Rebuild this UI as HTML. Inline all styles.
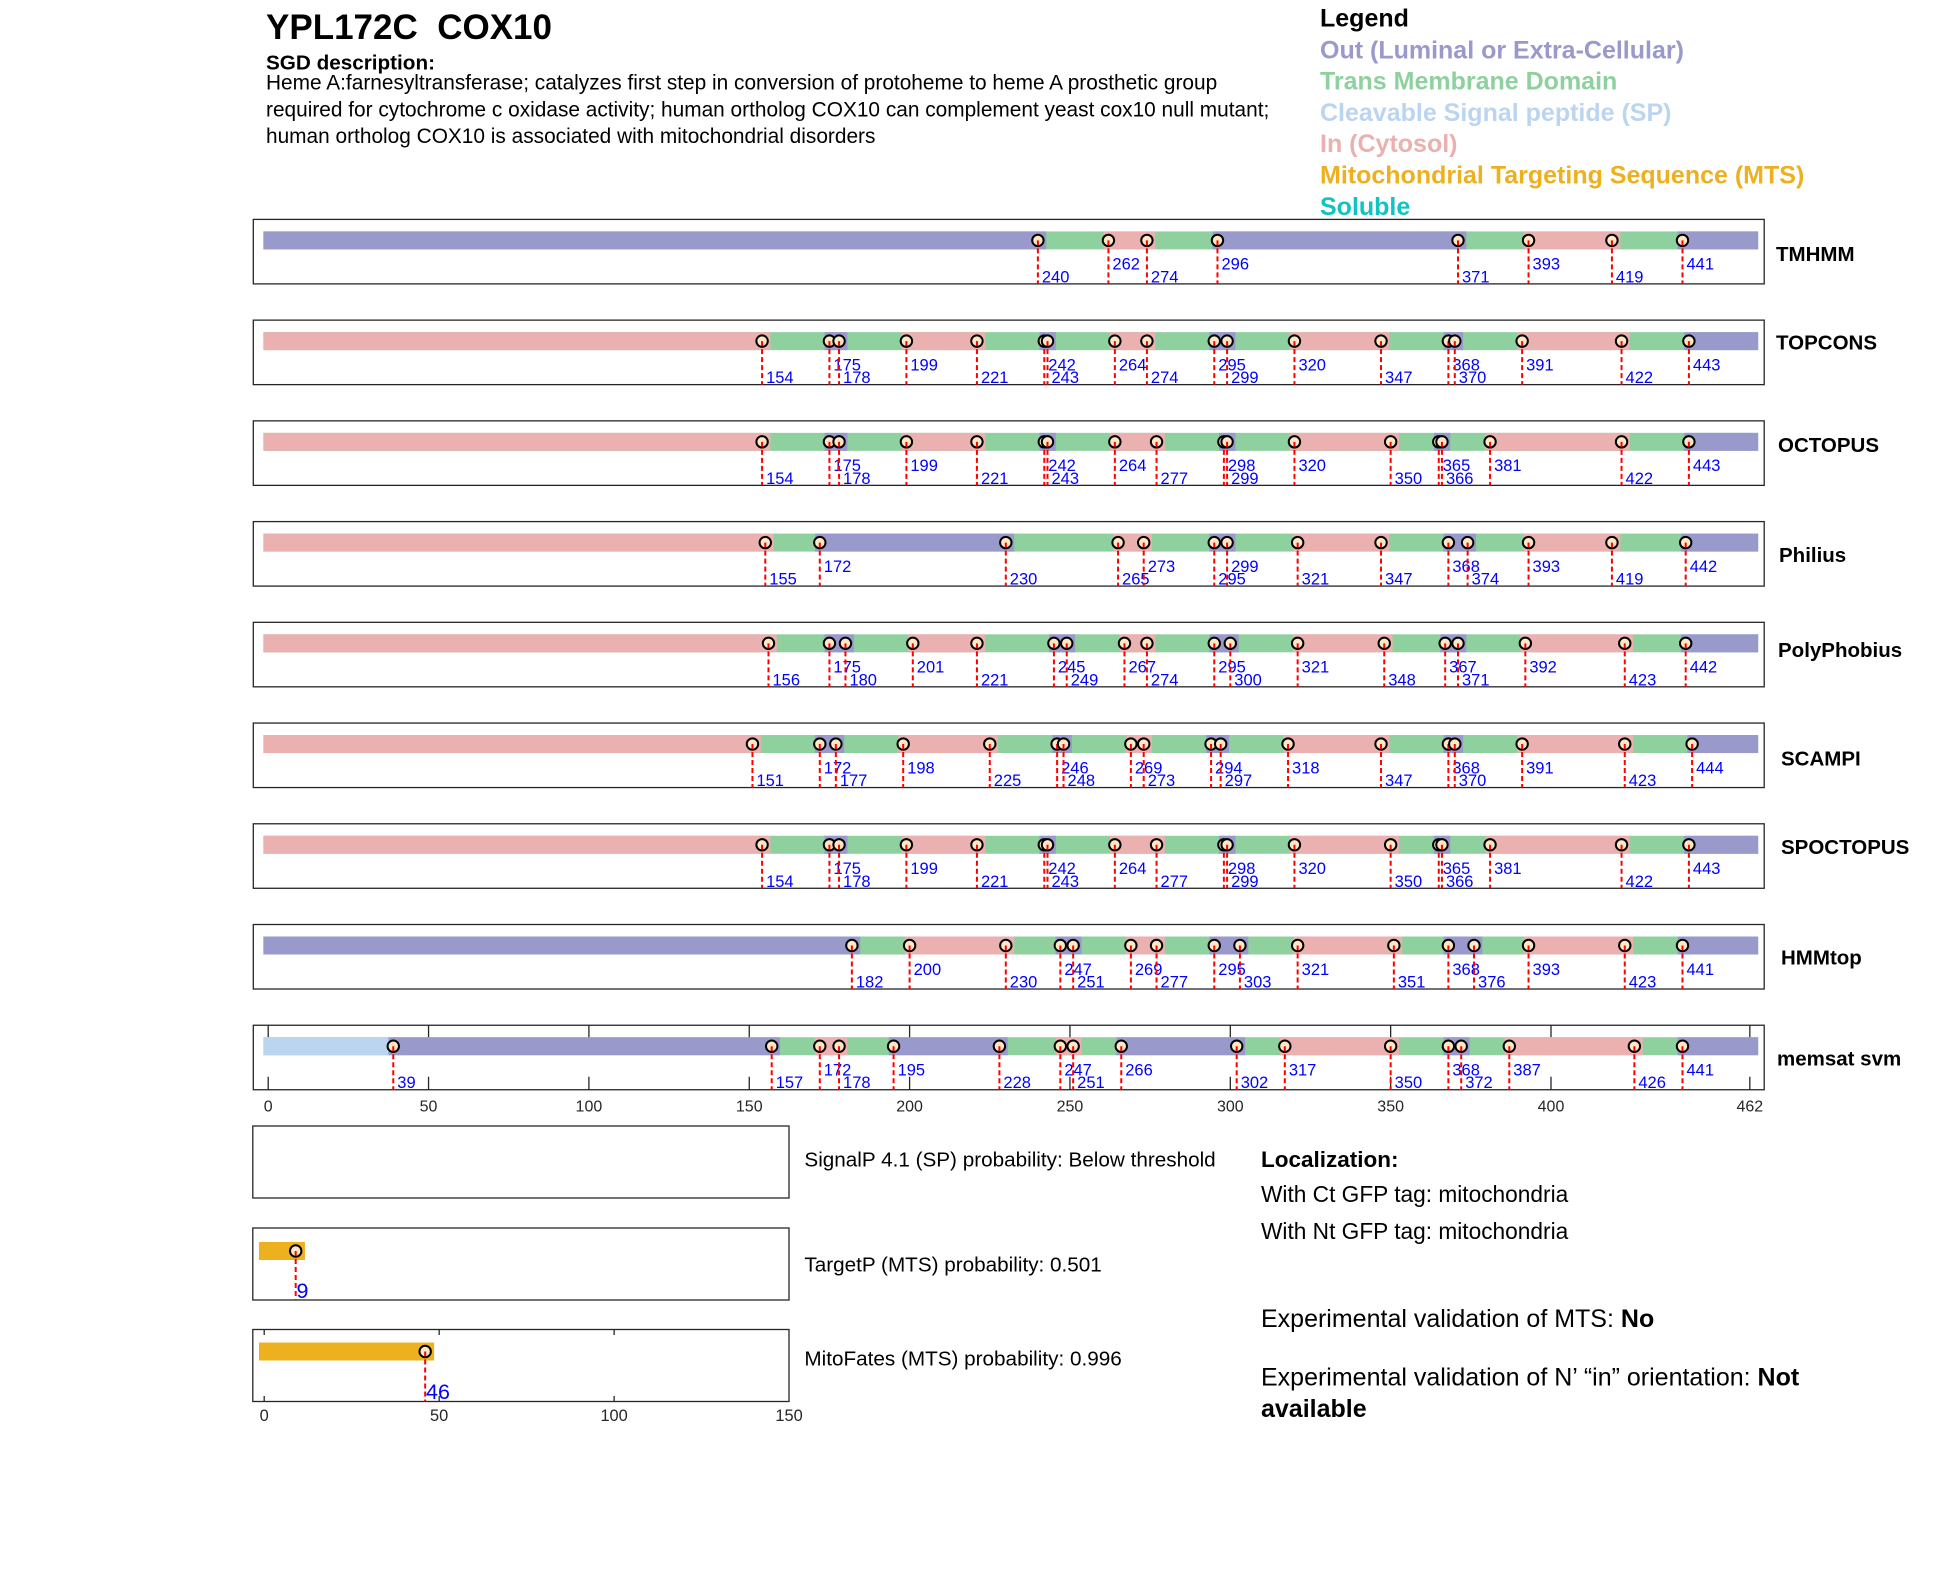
<!DOCTYPE html>
<html><head><meta charset="utf-8"><style>
html,body{margin:0;padding:0;background:#fff;}
svg{display:block;}
text{font-family:"Liberation Sans",Arial,sans-serif;}
.lb{font-size:16.5px;fill:#0000ff;}
.rl{font-size:20.5px;font-weight:bold;fill:#000;}
.tk{font-size:16px;fill:#262626;}
.bx{fill:none;stroke:#262626;stroke-width:1.3;}
</style></head><body>
<svg width="1950" height="1573" viewBox="0 0 1950 1573" xmlns="http://www.w3.org/2000/svg">
<defs>
<g id="mk"><circle cx="0" cy="21" r="5.7" fill="#fde7c5" stroke="#000" stroke-width="2"/><line x1="0" y1="21" x2="0" y2="64.5" stroke="#ff0000" stroke-width="2" stroke-dasharray="5 3"/></g>
</defs>
<rect width="1950" height="1573" fill="#fff"/>

<!-- header -->
<text x="266" y="39" style="font-size:35px;font-weight:bold">YPL172C&#160; COX10</text>
<text x="266" y="69.5" style="font-size:20.7px;font-weight:bold">SGD description:</text>
<text x="266" y="89.5" style="font-size:20.85px">Heme A:farnesyltransferase; catalyzes first step in conversion of protoheme to heme A prosthetic group</text>
<text x="266" y="116.5" style="font-size:20.85px">required for cytochrome c oxidase activity; human ortholog COX10 can complement yeast cox10 null mutant;</text>
<text x="266" y="143" style="font-size:20.85px">human ortholog COX10 is associated with mitochondrial disorders</text>

<!-- legend -->
<g style="font-size:25px;font-weight:bold">
<text x="1320" y="26.7" fill="#000">Legend</text>
<text x="1320" y="58.3" fill="#9999cc">Out (Luminal or Extra-Cellular)</text>
<text x="1320" y="89.5" fill="#8fd19e">Trans Membrane Domain</text>
<text x="1320" y="120.8" fill="#bbd5f1">Cleavable Signal peptide (SP)</text>
<text x="1320" y="152" fill="#ebb0b0">In (Cytosol)</text>
<text x="1320" y="183.5" fill="#edb120">Mitochondrial Targeting Sequence (MTS)</text>
<text x="1320" y="215" fill="#10c4c4">Soluble</text>
</g>

<!-- Row 0 TMHMM -->
<g transform="translate(0,219.4)">
<rect class="bx" x="253.3" y="0" width="1510.9" height="64.5"/>
<g transform="translate(268.2,12) scale(3.207,1)">
<rect x="-1.5" y="0" width="466.1" height="18" fill="#8fd19e"/>
<rect x="-1.5" y="0" width="244.1" height="18" fill="#9999cc"/>
<rect x="260.5" y="0" width="16.1" height="18" fill="#ebb0b0"/>
<rect x="294.5" y="0" width="79.1" height="18" fill="#9999cc"/>
<rect x="391.5" y="0" width="30.1" height="18" fill="#ebb0b0"/>
<rect x="439.5" y="0" width="25.1" height="18" fill="#9999cc"/>
</g>
<use href="#mk" x="1037.88"/><text class="lb" x="1037.88" dx="4" y="63">240</text>
<use href="#mk" x="1108.43"/><text class="lb" x="1108.43" dx="4" y="50.3">262</text>
<use href="#mk" x="1146.92"/><text class="lb" x="1146.92" dx="4" y="63">274</text>
<use href="#mk" x="1217.47"/><text class="lb" x="1217.47" dx="4" y="50.3">296</text>
<use href="#mk" x="1458.00"/><text class="lb" x="1458.00" dx="4" y="63">371</text>
<use href="#mk" x="1528.55"/><text class="lb" x="1528.55" dx="4" y="50.3">393</text>
<use href="#mk" x="1611.93"/><text class="lb" x="1611.93" dx="4" y="63">419</text>
<use href="#mk" x="1682.49"/><text class="lb" x="1682.49" dx="4" y="50.3">441</text>
</g>
<text class="rl" x="1776" y="260.8">TMHMM</text>

<!-- Row 1 TOPCONS -->
<g transform="translate(0,320.13)">
<rect class="bx" x="253.3" y="0" width="1510.9" height="64.5"/>
<g transform="translate(268.2,12) scale(3.207,1)">
<rect x="-1.5" y="0" width="466.1" height="18" fill="#8fd19e"/>
<rect x="-1.5" y="0" width="158.1" height="18" fill="#ebb0b0"/>
<rect x="173.5" y="0" width="7.1" height="18" fill="#9999cc"/>
<rect x="197.5" y="0" width="26.1" height="18" fill="#ebb0b0"/>
<rect x="240.5" y="0" width="5.1" height="18" fill="#9999cc"/>
<rect x="262.5" y="0" width="14.1" height="18" fill="#ebb0b0"/>
<rect x="293.5" y="0" width="8.1" height="18" fill="#9999cc"/>
<rect x="318.5" y="0" width="31.1" height="18" fill="#ebb0b0"/>
<rect x="366.5" y="0" width="6.1" height="18" fill="#9999cc"/>
<rect x="389.5" y="0" width="35.1" height="18" fill="#ebb0b0"/>
<rect x="441.5" y="0" width="23.1" height="18" fill="#9999cc"/>
</g>
<use href="#mk" x="762.08"/><text class="lb" x="762.08" dx="4" y="63">154</text>
<use href="#mk" x="829.43"/><text class="lb" x="829.43" dx="4" y="50.3">175</text>
<use href="#mk" x="839.05"/><text class="lb" x="839.05" dx="4" y="63">178</text>
<use href="#mk" x="906.39"/><text class="lb" x="906.39" dx="4" y="50.3">199</text>
<use href="#mk" x="976.95"/><text class="lb" x="976.95" dx="4" y="63">221</text>
<use href="#mk" x="1044.29"/><text class="lb" x="1044.29" dx="4" y="50.3">242</text>
<use href="#mk" x="1047.50"/><text class="lb" x="1047.50" dx="4" y="63">243</text>
<use href="#mk" x="1114.85"/><text class="lb" x="1114.85" dx="4" y="50.3">264</text>
<use href="#mk" x="1146.92"/><text class="lb" x="1146.92" dx="4" y="63">274</text>
<use href="#mk" x="1214.27"/><text class="lb" x="1214.27" dx="4" y="50.3">295</text>
<use href="#mk" x="1227.09"/><text class="lb" x="1227.09" dx="4" y="63">299</text>
<use href="#mk" x="1294.44"/><text class="lb" x="1294.44" dx="4" y="50.3">320</text>
<use href="#mk" x="1381.03"/><text class="lb" x="1381.03" dx="4" y="63">347</text>
<use href="#mk" x="1448.38"/><text class="lb" x="1448.38" dx="4" y="50.3">368</text>
<use href="#mk" x="1454.79"/><text class="lb" x="1454.79" dx="4" y="63">370</text>
<use href="#mk" x="1522.14"/><text class="lb" x="1522.14" dx="4" y="50.3">391</text>
<use href="#mk" x="1621.55"/><text class="lb" x="1621.55" dx="4" y="63">422</text>
<use href="#mk" x="1688.90"/><text class="lb" x="1688.90" dx="4" y="50.3">443</text>
</g>
<text class="rl" x="1776" y="349.5">TOPCONS</text>

<!-- Row 2 OCTOPUS -->
<g transform="translate(0,420.86)">
<rect class="bx" x="253.3" y="0" width="1510.9" height="64.5"/>
<g transform="translate(268.2,12) scale(3.207,1)">
<rect x="-1.5" y="0" width="466.1" height="18" fill="#8fd19e"/>
<rect x="-1.5" y="0" width="158.1" height="18" fill="#ebb0b0"/>
<rect x="173.5" y="0" width="7.1" height="18" fill="#9999cc"/>
<rect x="197.5" y="0" width="26.1" height="18" fill="#ebb0b0"/>
<rect x="240.5" y="0" width="5.1" height="18" fill="#9999cc"/>
<rect x="262.5" y="0" width="17.1" height="18" fill="#ebb0b0"/>
<rect x="296.5" y="0" width="5.1" height="18" fill="#9999cc"/>
<rect x="318.5" y="0" width="34.1" height="18" fill="#ebb0b0"/>
<rect x="363.5" y="0" width="5.1" height="18" fill="#9999cc"/>
<rect x="379.5" y="0" width="45.1" height="18" fill="#ebb0b0"/>
<rect x="441.5" y="0" width="23.1" height="18" fill="#9999cc"/>
</g>
<use href="#mk" x="762.08"/><text class="lb" x="762.08" dx="4" y="63">154</text>
<use href="#mk" x="829.43"/><text class="lb" x="829.43" dx="4" y="50.3">175</text>
<use href="#mk" x="839.05"/><text class="lb" x="839.05" dx="4" y="63">178</text>
<use href="#mk" x="906.39"/><text class="lb" x="906.39" dx="4" y="50.3">199</text>
<use href="#mk" x="976.95"/><text class="lb" x="976.95" dx="4" y="63">221</text>
<use href="#mk" x="1044.29"/><text class="lb" x="1044.29" dx="4" y="50.3">242</text>
<use href="#mk" x="1047.50"/><text class="lb" x="1047.50" dx="4" y="63">243</text>
<use href="#mk" x="1114.85"/><text class="lb" x="1114.85" dx="4" y="50.3">264</text>
<use href="#mk" x="1156.54"/><text class="lb" x="1156.54" dx="4" y="63">277</text>
<use href="#mk" x="1223.89"/><text class="lb" x="1223.89" dx="4" y="50.3">298</text>
<use href="#mk" x="1227.09"/><text class="lb" x="1227.09" dx="4" y="63">299</text>
<use href="#mk" x="1294.44"/><text class="lb" x="1294.44" dx="4" y="50.3">320</text>
<use href="#mk" x="1390.65"/><text class="lb" x="1390.65" dx="4" y="63">350</text>
<use href="#mk" x="1438.76"/><text class="lb" x="1438.76" dx="4" y="50.3">365</text>
<use href="#mk" x="1441.96"/><text class="lb" x="1441.96" dx="4" y="63">366</text>
<use href="#mk" x="1490.07"/><text class="lb" x="1490.07" dx="4" y="50.3">381</text>
<use href="#mk" x="1621.55"/><text class="lb" x="1621.55" dx="4" y="63">422</text>
<use href="#mk" x="1688.90"/><text class="lb" x="1688.90" dx="4" y="50.3">443</text>
</g>
<text class="rl" x="1778" y="451.8">OCTOPUS</text>

<!-- Row 3 Philius -->
<g transform="translate(0,521.59)">
<rect class="bx" x="253.3" y="0" width="1510.9" height="64.5"/>
<g transform="translate(268.2,12) scale(3.207,1)">
<rect x="-1.5" y="0" width="466.1" height="18" fill="#8fd19e"/>
<rect x="-1.5" y="0" width="159.1" height="18" fill="#ebb0b0"/>
<rect x="170.5" y="0" width="62.1" height="18" fill="#9999cc"/>
<rect x="263.5" y="0" width="12.1" height="18" fill="#ebb0b0"/>
<rect x="293.5" y="0" width="8.1" height="18" fill="#9999cc"/>
<rect x="319.5" y="0" width="30.1" height="18" fill="#ebb0b0"/>
<rect x="366.5" y="0" width="10.1" height="18" fill="#9999cc"/>
<rect x="391.5" y="0" width="30.1" height="18" fill="#ebb0b0"/>
<rect x="440.5" y="0" width="24.1" height="18" fill="#9999cc"/>
</g>
<use href="#mk" x="765.29"/><text class="lb" x="765.29" dx="4" y="63">155</text>
<use href="#mk" x="819.80"/><text class="lb" x="819.80" dx="4" y="50.3">172</text>
<use href="#mk" x="1005.81"/><text class="lb" x="1005.81" dx="4" y="63">230</text>
<use href="#mk" x="1118.06"/><text class="lb" x="1118.06" dx="4" y="63">265</text>
<use href="#mk" x="1143.71"/><text class="lb" x="1143.71" dx="4" y="50.3">273</text>
<use href="#mk" x="1214.27"/><text class="lb" x="1214.27" dx="4" y="63">295</text>
<use href="#mk" x="1227.09"/><text class="lb" x="1227.09" dx="4" y="50.3">299</text>
<use href="#mk" x="1297.65"/><text class="lb" x="1297.65" dx="4" y="63">321</text>
<use href="#mk" x="1381.03"/><text class="lb" x="1381.03" dx="4" y="63">347</text>
<use href="#mk" x="1448.38"/><text class="lb" x="1448.38" dx="4" y="50.3">368</text>
<use href="#mk" x="1467.62"/><text class="lb" x="1467.62" dx="4" y="63">374</text>
<use href="#mk" x="1528.55"/><text class="lb" x="1528.55" dx="4" y="50.3">393</text>
<use href="#mk" x="1611.93"/><text class="lb" x="1611.93" dx="4" y="63">419</text>
<use href="#mk" x="1685.69"/><text class="lb" x="1685.69" dx="4" y="50.3">442</text>
</g>
<text class="rl" x="1779" y="562.1">Philius</text>

<!-- Row 4 PolyPhobius -->
<g transform="translate(0,622.32)">
<rect class="bx" x="253.3" y="0" width="1510.9" height="64.5"/>
<g transform="translate(268.2,12) scale(3.207,1)">
<rect x="-1.5" y="0" width="466.1" height="18" fill="#8fd19e"/>
<rect x="-1.5" y="0" width="160.1" height="18" fill="#ebb0b0"/>
<rect x="173.5" y="0" width="9.1" height="18" fill="#9999cc"/>
<rect x="199.5" y="0" width="24.1" height="18" fill="#ebb0b0"/>
<rect x="243.5" y="0" width="8.1" height="18" fill="#9999cc"/>
<rect x="265.5" y="0" width="11.1" height="18" fill="#ebb0b0"/>
<rect x="293.5" y="0" width="9.1" height="18" fill="#9999cc"/>
<rect x="319.5" y="0" width="31.1" height="18" fill="#ebb0b0"/>
<rect x="365.5" y="0" width="8.1" height="18" fill="#9999cc"/>
<rect x="390.5" y="0" width="35.1" height="18" fill="#ebb0b0"/>
<rect x="440.5" y="0" width="24.1" height="18" fill="#9999cc"/>
</g>
<use href="#mk" x="768.49"/><text class="lb" x="768.49" dx="4" y="63">156</text>
<use href="#mk" x="829.43"/><text class="lb" x="829.43" dx="4" y="50.3">175</text>
<use href="#mk" x="845.46"/><text class="lb" x="845.46" dx="4" y="63">180</text>
<use href="#mk" x="912.81"/><text class="lb" x="912.81" dx="4" y="50.3">201</text>
<use href="#mk" x="976.95"/><text class="lb" x="976.95" dx="4" y="63">221</text>
<use href="#mk" x="1053.92"/><text class="lb" x="1053.92" dx="4" y="50.3">245</text>
<use href="#mk" x="1066.74"/><text class="lb" x="1066.74" dx="4" y="63">249</text>
<use href="#mk" x="1124.47"/><text class="lb" x="1124.47" dx="4" y="50.3">267</text>
<use href="#mk" x="1146.92"/><text class="lb" x="1146.92" dx="4" y="63">274</text>
<use href="#mk" x="1214.27"/><text class="lb" x="1214.27" dx="4" y="50.3">295</text>
<use href="#mk" x="1230.30"/><text class="lb" x="1230.30" dx="4" y="63">300</text>
<use href="#mk" x="1297.65"/><text class="lb" x="1297.65" dx="4" y="50.3">321</text>
<use href="#mk" x="1384.24"/><text class="lb" x="1384.24" dx="4" y="63">348</text>
<use href="#mk" x="1445.17"/><text class="lb" x="1445.17" dx="4" y="50.3">367</text>
<use href="#mk" x="1458.00"/><text class="lb" x="1458.00" dx="4" y="63">371</text>
<use href="#mk" x="1525.34"/><text class="lb" x="1525.34" dx="4" y="50.3">392</text>
<use href="#mk" x="1624.76"/><text class="lb" x="1624.76" dx="4" y="63">423</text>
<use href="#mk" x="1685.69"/><text class="lb" x="1685.69" dx="4" y="50.3">442</text>
</g>
<text class="rl" x="1778" y="656.8">PolyPhobius</text>

<!-- Row 5 SCAMPI -->
<g transform="translate(0,723.05)">
<rect class="bx" x="253.3" y="0" width="1510.9" height="64.5"/>
<g transform="translate(268.2,12) scale(3.207,1)">
<rect x="-1.5" y="0" width="466.1" height="18" fill="#8fd19e"/>
<rect x="-1.5" y="0" width="155.1" height="18" fill="#ebb0b0"/>
<rect x="170.5" y="0" width="9.1" height="18" fill="#9999cc"/>
<rect x="196.5" y="0" width="31.1" height="18" fill="#ebb0b0"/>
<rect x="244.5" y="0" width="6.1" height="18" fill="#9999cc"/>
<rect x="267.5" y="0" width="8.1" height="18" fill="#ebb0b0"/>
<rect x="292.5" y="0" width="7.1" height="18" fill="#9999cc"/>
<rect x="316.5" y="0" width="33.1" height="18" fill="#ebb0b0"/>
<rect x="366.5" y="0" width="6.1" height="18" fill="#9999cc"/>
<rect x="389.5" y="0" width="36.1" height="18" fill="#ebb0b0"/>
<rect x="442.5" y="0" width="22.1" height="18" fill="#9999cc"/>
</g>
<use href="#mk" x="752.46"/><text class="lb" x="752.46" dx="4" y="63">151</text>
<use href="#mk" x="819.80"/><text class="lb" x="819.80" dx="4" y="50.3">172</text>
<use href="#mk" x="835.84"/><text class="lb" x="835.84" dx="4" y="63">177</text>
<use href="#mk" x="903.19"/><text class="lb" x="903.19" dx="4" y="50.3">198</text>
<use href="#mk" x="989.78"/><text class="lb" x="989.78" dx="4" y="63">225</text>
<use href="#mk" x="1057.12"/><text class="lb" x="1057.12" dx="4" y="50.3">246</text>
<use href="#mk" x="1063.54"/><text class="lb" x="1063.54" dx="4" y="63">248</text>
<use href="#mk" x="1130.88"/><text class="lb" x="1130.88" dx="4" y="50.3">269</text>
<use href="#mk" x="1143.71"/><text class="lb" x="1143.71" dx="4" y="63">273</text>
<use href="#mk" x="1211.06"/><text class="lb" x="1211.06" dx="4" y="50.3">294</text>
<use href="#mk" x="1220.68"/><text class="lb" x="1220.68" dx="4" y="63">297</text>
<use href="#mk" x="1288.03"/><text class="lb" x="1288.03" dx="4" y="50.3">318</text>
<use href="#mk" x="1381.03"/><text class="lb" x="1381.03" dx="4" y="63">347</text>
<use href="#mk" x="1448.38"/><text class="lb" x="1448.38" dx="4" y="50.3">368</text>
<use href="#mk" x="1454.79"/><text class="lb" x="1454.79" dx="4" y="63">370</text>
<use href="#mk" x="1522.14"/><text class="lb" x="1522.14" dx="4" y="50.3">391</text>
<use href="#mk" x="1624.76"/><text class="lb" x="1624.76" dx="4" y="63">423</text>
<use href="#mk" x="1692.11"/><text class="lb" x="1692.11" dx="4" y="50.3">444</text>
</g>
<text class="rl" x="1781" y="765.5">SCAMPI</text>

<!-- Row 6 SPOCTOPUS -->
<g transform="translate(0,823.78)">
<rect class="bx" x="253.3" y="0" width="1510.9" height="64.5"/>
<g transform="translate(268.2,12) scale(3.207,1)">
<rect x="-1.5" y="0" width="466.1" height="18" fill="#8fd19e"/>
<rect x="-1.5" y="0" width="158.1" height="18" fill="#ebb0b0"/>
<rect x="173.5" y="0" width="7.1" height="18" fill="#9999cc"/>
<rect x="197.5" y="0" width="26.1" height="18" fill="#ebb0b0"/>
<rect x="240.5" y="0" width="5.1" height="18" fill="#9999cc"/>
<rect x="262.5" y="0" width="17.1" height="18" fill="#ebb0b0"/>
<rect x="296.5" y="0" width="5.1" height="18" fill="#9999cc"/>
<rect x="318.5" y="0" width="34.1" height="18" fill="#ebb0b0"/>
<rect x="363.5" y="0" width="5.1" height="18" fill="#9999cc"/>
<rect x="379.5" y="0" width="45.1" height="18" fill="#ebb0b0"/>
<rect x="441.5" y="0" width="23.1" height="18" fill="#9999cc"/>
</g>
<use href="#mk" x="762.08"/><text class="lb" x="762.08" dx="4" y="63">154</text>
<use href="#mk" x="829.43"/><text class="lb" x="829.43" dx="4" y="50.3">175</text>
<use href="#mk" x="839.05"/><text class="lb" x="839.05" dx="4" y="63">178</text>
<use href="#mk" x="906.39"/><text class="lb" x="906.39" dx="4" y="50.3">199</text>
<use href="#mk" x="976.95"/><text class="lb" x="976.95" dx="4" y="63">221</text>
<use href="#mk" x="1044.29"/><text class="lb" x="1044.29" dx="4" y="50.3">242</text>
<use href="#mk" x="1047.50"/><text class="lb" x="1047.50" dx="4" y="63">243</text>
<use href="#mk" x="1114.85"/><text class="lb" x="1114.85" dx="4" y="50.3">264</text>
<use href="#mk" x="1156.54"/><text class="lb" x="1156.54" dx="4" y="63">277</text>
<use href="#mk" x="1223.89"/><text class="lb" x="1223.89" dx="4" y="50.3">298</text>
<use href="#mk" x="1227.09"/><text class="lb" x="1227.09" dx="4" y="63">299</text>
<use href="#mk" x="1294.44"/><text class="lb" x="1294.44" dx="4" y="50.3">320</text>
<use href="#mk" x="1390.65"/><text class="lb" x="1390.65" dx="4" y="63">350</text>
<use href="#mk" x="1438.76"/><text class="lb" x="1438.76" dx="4" y="50.3">365</text>
<use href="#mk" x="1441.96"/><text class="lb" x="1441.96" dx="4" y="63">366</text>
<use href="#mk" x="1490.07"/><text class="lb" x="1490.07" dx="4" y="50.3">381</text>
<use href="#mk" x="1621.55"/><text class="lb" x="1621.55" dx="4" y="63">422</text>
<use href="#mk" x="1688.90"/><text class="lb" x="1688.90" dx="4" y="50.3">443</text>
</g>
<text class="rl" x="1781" y="854.2">SPOCTOPUS</text>

<!-- Row 7 HMMtop -->
<g transform="translate(0,924.51)">
<rect class="bx" x="253.3" y="0" width="1510.9" height="64.5"/>
<g transform="translate(268.2,12) scale(3.207,1)">
<rect x="-1.5" y="0" width="466.1" height="18" fill="#8fd19e"/>
<rect x="-1.5" y="0" width="186.1" height="18" fill="#9999cc"/>
<rect x="198.5" y="0" width="34.1" height="18" fill="#ebb0b0"/>
<rect x="245.5" y="0" width="8.1" height="18" fill="#9999cc"/>
<rect x="267.5" y="0" width="12.1" height="18" fill="#ebb0b0"/>
<rect x="293.5" y="0" width="12.1" height="18" fill="#9999cc"/>
<rect x="319.5" y="0" width="34.1" height="18" fill="#ebb0b0"/>
<rect x="366.5" y="0" width="12.1" height="18" fill="#9999cc"/>
<rect x="391.5" y="0" width="34.1" height="18" fill="#ebb0b0"/>
<rect x="439.5" y="0" width="25.1" height="18" fill="#9999cc"/>
</g>
<use href="#mk" x="851.87"/><text class="lb" x="851.87" dx="4" y="63">182</text>
<use href="#mk" x="909.60"/><text class="lb" x="909.60" dx="4" y="50.3">200</text>
<use href="#mk" x="1005.81"/><text class="lb" x="1005.81" dx="4" y="63">230</text>
<use href="#mk" x="1060.33"/><text class="lb" x="1060.33" dx="4" y="50.3">247</text>
<use href="#mk" x="1073.16"/><text class="lb" x="1073.16" dx="4" y="63">251</text>
<use href="#mk" x="1130.88"/><text class="lb" x="1130.88" dx="4" y="50.3">269</text>
<use href="#mk" x="1156.54"/><text class="lb" x="1156.54" dx="4" y="63">277</text>
<use href="#mk" x="1214.27"/><text class="lb" x="1214.27" dx="4" y="50.3">295</text>
<use href="#mk" x="1239.92"/><text class="lb" x="1239.92" dx="4" y="63">303</text>
<use href="#mk" x="1297.65"/><text class="lb" x="1297.65" dx="4" y="50.3">321</text>
<use href="#mk" x="1393.86"/><text class="lb" x="1393.86" dx="4" y="63">351</text>
<use href="#mk" x="1448.38"/><text class="lb" x="1448.38" dx="4" y="50.3">368</text>
<use href="#mk" x="1474.03"/><text class="lb" x="1474.03" dx="4" y="63">376</text>
<use href="#mk" x="1528.55"/><text class="lb" x="1528.55" dx="4" y="50.3">393</text>
<use href="#mk" x="1624.76"/><text class="lb" x="1624.76" dx="4" y="63">423</text>
<use href="#mk" x="1682.49"/><text class="lb" x="1682.49" dx="4" y="50.3">441</text>
</g>
<text class="rl" x="1781" y="964.5">HMMtop</text>

<!-- Row 8 memsat svm -->
<g transform="translate(0,1025.24)">
<rect class="bx" x="253.3" y="0" width="1510.9" height="64.5"/>
<g stroke="#262626" stroke-width="1.3">
<line x1="268.2" y1="0" x2="268.2" y2="13"/><line x1="268.2" y1="51.5" x2="268.2" y2="64.5"/>
<line x1="428.55" y1="0" x2="428.55" y2="13"/><line x1="428.55" y1="51.5" x2="428.55" y2="64.5"/>
<line x1="588.9" y1="0" x2="588.9" y2="13"/><line x1="588.9" y1="51.5" x2="588.9" y2="64.5"/>
<line x1="749.25" y1="0" x2="749.25" y2="13"/><line x1="749.25" y1="51.5" x2="749.25" y2="64.5"/>
<line x1="909.6" y1="0" x2="909.6" y2="13"/><line x1="909.6" y1="51.5" x2="909.6" y2="64.5"/>
<line x1="1069.95" y1="0" x2="1069.95" y2="13"/><line x1="1069.95" y1="51.5" x2="1069.95" y2="64.5"/>
<line x1="1230.3" y1="0" x2="1230.3" y2="13"/><line x1="1230.3" y1="51.5" x2="1230.3" y2="64.5"/>
<line x1="1390.65" y1="0" x2="1390.65" y2="13"/><line x1="1390.65" y1="51.5" x2="1390.65" y2="64.5"/>
<line x1="1551.0" y1="0" x2="1551.0" y2="13"/><line x1="1551.0" y1="51.5" x2="1551.0" y2="64.5"/>
<line x1="1749.83" y1="0" x2="1749.83" y2="13"/><line x1="1749.83" y1="51.5" x2="1749.83" y2="64.5"/>
</g>
<g transform="translate(268.2,12) scale(3.207,1)">
<rect x="-1.5" y="0" width="466.1" height="18" fill="#8fd19e"/>
<rect x="-1.5" y="0" width="43.1" height="18" fill="#bbd5f1"/>
<rect x="37.5" y="0" width="122.1" height="18" fill="#9999cc"/>
<rect x="170.5" y="0" width="10.1" height="18" fill="#ebb0b0"/>
<rect x="193.5" y="0" width="37.1" height="18" fill="#9999cc"/>
<rect x="245.5" y="0" width="8.1" height="18" fill="#ebb0b0"/>
<rect x="264.5" y="0" width="40.1" height="18" fill="#9999cc"/>
<rect x="315.5" y="0" width="37.1" height="18" fill="#ebb0b0"/>
<rect x="366.5" y="0" width="8.1" height="18" fill="#9999cc"/>
<rect x="385.5" y="0" width="43.1" height="18" fill="#ebb0b0"/>
<rect x="439.5" y="0" width="25.1" height="18" fill="#9999cc"/>
</g>
<use href="#mk" x="393.27"/><text class="lb" x="393.27" dx="4" y="63">39</text>
<use href="#mk" x="771.70"/><text class="lb" x="771.70" dx="4" y="63">157</text>
<use href="#mk" x="819.80"/><text class="lb" x="819.80" dx="4" y="50.3">172</text>
<use href="#mk" x="839.05"/><text class="lb" x="839.05" dx="4" y="63">178</text>
<use href="#mk" x="893.57"/><text class="lb" x="893.57" dx="4" y="50.3">195</text>
<use href="#mk" x="999.40"/><text class="lb" x="999.40" dx="4" y="63">228</text>
<use href="#mk" x="1060.33"/><text class="lb" x="1060.33" dx="4" y="50.3">247</text>
<use href="#mk" x="1073.16"/><text class="lb" x="1073.16" dx="4" y="63">251</text>
<use href="#mk" x="1121.26"/><text class="lb" x="1121.26" dx="4" y="50.3">266</text>
<use href="#mk" x="1236.71"/><text class="lb" x="1236.71" dx="4" y="63">302</text>
<use href="#mk" x="1284.82"/><text class="lb" x="1284.82" dx="4" y="50.3">317</text>
<use href="#mk" x="1390.65"/><text class="lb" x="1390.65" dx="4" y="63">350</text>
<use href="#mk" x="1448.38"/><text class="lb" x="1448.38" dx="4" y="50.3">368</text>
<use href="#mk" x="1461.20"/><text class="lb" x="1461.20" dx="4" y="63">372</text>
<use href="#mk" x="1509.31"/><text class="lb" x="1509.31" dx="4" y="50.3">387</text>
<use href="#mk" x="1634.38"/><text class="lb" x="1634.38" dx="4" y="63">426</text>
<use href="#mk" x="1682.49"/><text class="lb" x="1682.49" dx="4" y="50.3">441</text>
</g>
<text class="rl" x="1777" y="1065.5">memsat svm</text>
<g class="tk" text-anchor="middle">
<text x="268.2" y="1111.5">0</text>
<text x="428.55" y="1111.5">50</text>
<text x="588.9" y="1111.5">100</text>
<text x="749.25" y="1111.5">150</text>
<text x="909.6" y="1111.5">200</text>
<text x="1069.95" y="1111.5">250</text>
<text x="1230.3" y="1111.5">300</text>
<text x="1390.65" y="1111.5">350</text>
<text x="1551.0" y="1111.5">400</text>
<text x="1749.83" y="1111.5">462</text>
</g>

<!-- bottom panels -->
<rect class="bx" x="252.8" y="1126" width="536.2" height="72"/>
<text x="804.4" y="1166.5" style="font-size:20.7px">SignalP 4.1 (SP) probability: Below threshold</text>

<rect class="bx" x="252.8" y="1228" width="536.2" height="72"/>
<rect x="258.95" y="1242" width="46.0" height="18" fill="#edb120"/>
<circle cx="295.69" cy="1251" r="5.7" fill="#fde7c5" stroke="#000" stroke-width="2"/>
<line x1="295.69" y1="1251" x2="295.69" y2="1300" stroke="#ff0000" stroke-width="2" stroke-dasharray="5 3"/>
<text x="296.5" y="1298" style="font-size:21.5px;fill:#0000ff">9</text>
<text x="804.4" y="1271.5" style="font-size:20.7px">TargetP (MTS) probability: 0.501</text>

<rect class="bx" x="252.8" y="1329.5" width="536.2" height="72"/>
<g stroke="#262626" stroke-width="1.3">
<line x1="264.2" y1="1329.5" x2="264.2" y2="1335"/><line x1="264.2" y1="1396" x2="264.2" y2="1401.5"/>
<line x1="439.17" y1="1329.5" x2="439.17" y2="1335"/><line x1="439.17" y1="1396" x2="439.17" y2="1401.5"/>
<line x1="614.13" y1="1329.5" x2="614.13" y2="1335"/><line x1="614.13" y1="1396" x2="614.13" y2="1401.5"/>
</g>
<rect x="258.95" y="1342.5" width="175.2" height="18" fill="#edb120"/>
<circle cx="425.17" cy="1351.5" r="5.7" fill="#fde7c5" stroke="#000" stroke-width="2"/>
<line x1="425.17" y1="1351.5" x2="425.17" y2="1401.5" stroke="#ff0000" stroke-width="2" stroke-dasharray="5 3"/>
<text x="426" y="1399" style="font-size:21.5px;fill:#0000ff">46</text>
<text x="804.4" y="1365.5" style="font-size:20.7px">MitoFates (MTS) probability: 0.996</text>
<g style="font-size:16.4px;fill:#262626" text-anchor="middle">
<text x="264.2" y="1421">0</text>
<text x="439.17" y="1421">50</text>
<text x="614.13" y="1421">100</text>
<text x="789.1" y="1421">150</text>
</g>

<!-- localization -->
<text x="1261" y="1167" style="font-size:22.5px;font-weight:bold">Localization:</text>
<text x="1261" y="1202" style="font-size:22.7px">With Ct GFP tag: mitochondria</text>
<text x="1261" y="1239" style="font-size:22.7px">With Nt GFP tag: mitochondria</text>
<text x="1261" y="1327" style="font-size:25px">Experimental validation of MTS: <tspan font-weight="bold">No</tspan></text>
<text x="1261" y="1385.5" style="font-size:25px">Experimental validation of N’ “in” orientation: <tspan font-weight="bold">Not</tspan></text>
<text x="1261" y="1417" style="font-size:25px;font-weight:bold">available</text>
</svg>
</body></html>
